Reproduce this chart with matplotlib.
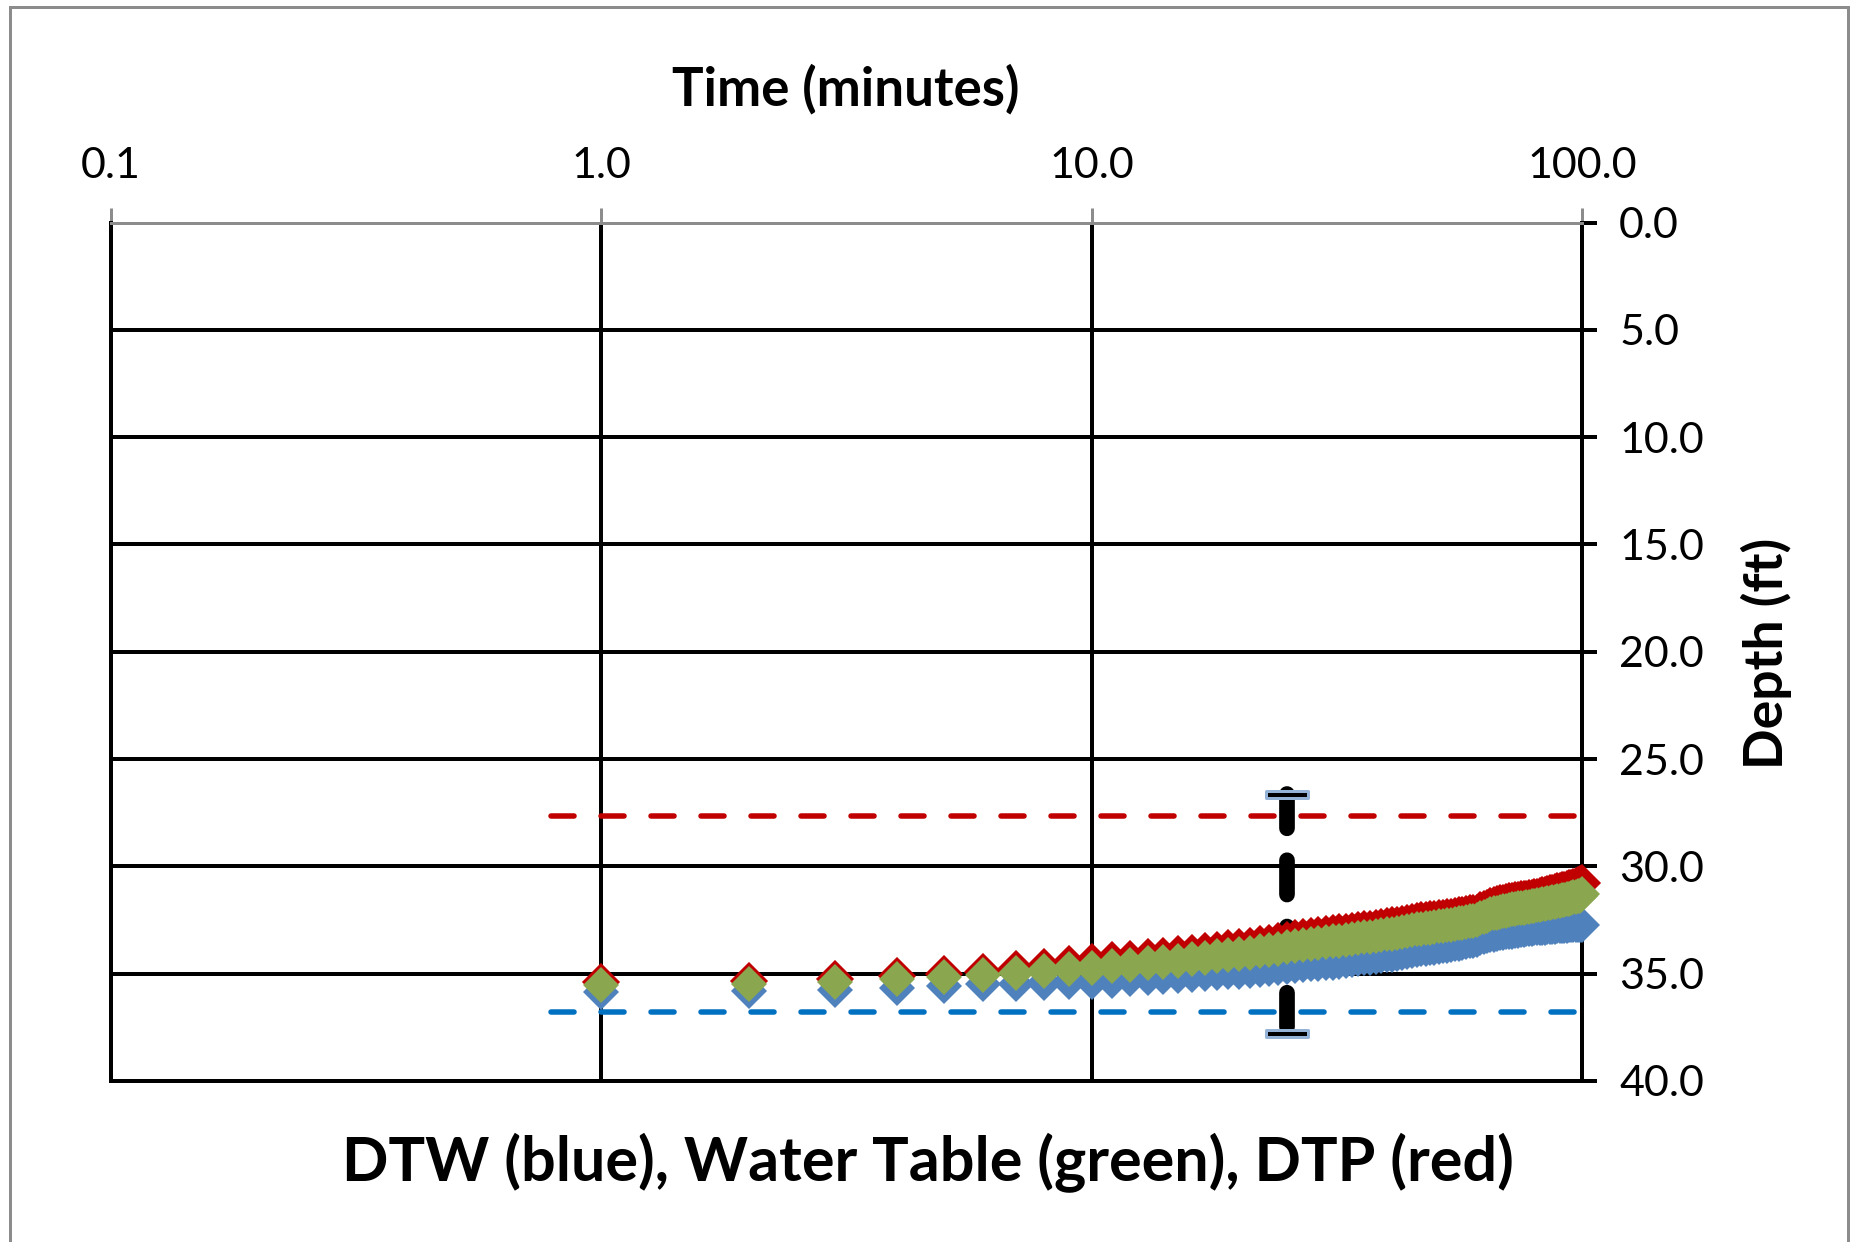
#Depth to water / water table / depth to product vs. time for a bail-down test
#Log time axis along the top, depth increasing downward on the right

import numpy as np
import matplotlib.pyplot as plt
from matplotlib.path import Path
from matplotlib.patches import Rectangle

plt.rcParams['font.family'] = ['Lato', 'DejaVu Sans']
plt.rcParams['lines.scale_dashes'] = False

PT = 0.72  # points per pixel at dpi=100

# sample times (minutes)
minutes = np.arange(1, 101)

# depth to water (ft)
dtw = [35.85, 35.80, 35.75, 35.66, 35.57, 35.50, 35.46, 35.43, 35.40, 35.37,
       35.32, 35.27, 35.22, 35.17, 35.12, 35.08, 35.03, 34.99, 34.94, 34.90,
       34.86, 34.81, 34.77, 34.72, 34.68, 34.64, 34.60, 34.57, 34.54, 34.51,
       34.48, 34.45, 34.41, 34.37, 34.33, 34.29, 34.26, 34.22, 34.19, 34.15,
       34.11, 34.08, 34.04, 34.00, 33.95, 33.90, 33.87, 33.84, 33.81, 33.78,
       33.75, 33.72, 33.69, 33.66, 33.63, 33.60, 33.56, 33.52, 33.49, 33.46,
       33.43, 33.35, 33.28, 33.24, 33.21, 33.18, 33.15, 33.12, 33.10, 33.08,
       33.06, 33.04, 33.02, 33.00, 32.98, 32.96, 32.94, 32.92, 32.90, 32.89,
       32.88, 32.87, 32.86, 32.85, 32.84, 32.83, 32.82, 32.81, 32.80, 32.79,
       32.78, 32.77, 32.76, 32.75, 32.74, 32.74, 32.73, 32.73, 32.72, 32.72]

# depth to product (ft)
dtp = [35.40, 35.34, 35.23, 35.11, 35.00, 34.91, 34.79, 34.68, 34.57, 34.47,
       34.38, 34.31, 34.24, 34.17, 34.10, 34.03, 33.96, 33.88, 33.82, 33.76,
       33.69, 33.62, 33.55, 33.48, 33.41, 33.36, 33.31, 33.26, 33.21, 33.16,
       33.12, 33.08, 33.04, 33.00, 32.96, 32.93, 32.90, 32.86, 32.83, 32.79,
       32.75, 32.71, 32.67, 32.63, 32.59, 32.55, 32.52, 32.49, 32.47, 32.44,
       32.42, 32.39, 32.37, 32.34, 32.31, 32.28, 32.25, 32.21, 32.19, 32.17,
       32.16, 32.05, 31.98, 31.92, 31.86, 31.80, 31.76, 31.72, 31.69, 31.66,
       31.63, 31.60, 31.58, 31.56, 31.54, 31.52, 31.50, 31.48, 31.46, 31.44,
       31.41, 31.38, 31.35, 31.32, 31.29, 31.26, 31.23, 31.20, 31.17, 31.14,
       31.11, 31.08, 31.05, 31.02, 30.99, 30.95, 30.91, 30.87, 30.83, 30.78]

# corrected water table (ft)
water_table = [35.53, 35.47, 35.38, 35.26, 35.16, 35.08, 34.98, 34.89, 34.80, 34.72,
               34.64, 34.58, 34.51, 34.45, 34.39, 34.32, 34.26, 34.19, 34.13, 34.08,
               34.02, 33.95, 33.89, 33.83, 33.77, 33.72, 33.67, 33.63, 33.58, 33.54,
               33.50, 33.46, 33.42, 33.38, 33.34, 33.31, 33.28, 33.24, 33.21, 33.17,
               33.13, 33.09, 33.05, 33.01, 32.97, 32.93, 32.90, 32.87, 32.85, 32.82,
               32.79, 32.76, 32.74, 32.71, 32.68, 32.65, 32.62, 32.58, 32.55, 32.53,
               32.52, 32.41, 32.34, 32.29, 32.24, 32.19, 32.15, 32.11, 32.08, 32.06,
               32.03, 32.00, 31.98, 31.96, 31.94, 31.92, 31.90, 31.88, 31.86, 31.85,
               31.82, 31.80, 31.77, 31.75, 31.72, 31.70, 31.68, 31.65, 31.63, 31.60,
               31.58, 31.55, 31.53, 31.50, 31.48, 31.45, 31.42, 31.39, 31.36, 31.28]

# static levels before bailing
ref_span = [0.79, 100]
dtp_static = 27.66
dtw_static = 36.78

# recovery window marker
bar_time = 25
bar_range = [26.65, 37.75]

x_ticks = [0.1, 1, 10, 100]
x_labels = ['0.1', '1.0', '10.0', '100.0']
y_ticks = [0, 5, 10, 15, 20, 25, 30, 35, 40]
y_labels = ['0.0', '5.0', '10.0', '15.0', '20.0', '25.0', '30.0', '35.0', '40.0']

W, H = 1855, 1242
fig = plt.figure(figsize=(W / 100, H / 100), dpi=100)
left, right, top, bottom = 111, 1582, 222.5, 1081
ax = fig.add_axes([left / W, 1 - bottom / H, (right - left) / W, (bottom - top) / H])

ax.set_xscale('log')
ax.set_xlim(0.1, 100)
ax.set_ylim(40, 0)
ax.xaxis.tick_top()
ax.yaxis.tick_right()
ax.set_xticks(x_ticks)
ax.set_xticklabels(x_labels)
ax.xaxis.set_minor_locator(plt.NullLocator())
ax.set_yticks(y_ticks)
ax.set_yticklabels(y_labels)

ax.tick_params(axis='x', direction='out', length=15 * PT, width=3 * PT,
               color='#8c8c8c', pad=16.5, labelsize=31)
ax.tick_params(axis='y', direction='out', length=15 * PT, width=4 * PT,
               color='black', pad=16, labelsize=31)

ax.set_axisbelow(True)
ax.grid(True, color='black', linewidth=4 * PT)

for side in ['left', 'right', 'bottom']:
    ax.spines[side].set_color('black')
    ax.spines[side].set_linewidth(4 * PT)
ax.spines['top'].set_color('#8c8c8c')
ax.spines['top'].set_linewidth(3 * PT)

# static level lines
ax.plot(ref_span, [dtp_static] * 2, color='#C00000', lw=5.5 * PT,
        dashes=(16.6, 19.4), dash_capstyle='round', zorder=2)
ax.plot(ref_span, [dtw_static] * 2, color='#0070C0', lw=5.5 * PT,
        dashes=(16.6, 19.4), dash_capstyle='round', zorder=2)

# thick dashed range bar with boxed caps
ax.plot([bar_time] * 2, bar_range, color='black', lw=15.7 * PT,
        dashes=(24.7, 23.0), dash_capstyle='round', zorder=3)
cap = Path([(-21, -3.5), (21, -3.5), (21, 3.5), (-21, 3.5), (0, 0)],
           [Path.MOVETO, Path.LINETO, Path.LINETO, Path.LINETO, Path.CLOSEPOLY])
ax.plot([bar_time] * 2, bar_range, ls='none', marker=cap, ms=42 * PT,
        mfc='black', mec='#95B3D7', mew=3 * PT, zorder=3.5)

# data series
ms = 18.6
ax.plot(minutes, dtw, ls='none', marker='D', ms=ms, color='#4F81BD',
        mew=0, zorder=5, clip_on=False)
ax.plot(minutes, dtp, ls='none', marker='D', ms=ms, color='#C00000',
        mec='#C00000', mew=1.5 * PT, zorder=6, clip_on=False)
ax.plot(minutes, water_table, ls='none', marker='D', ms=ms, color='#8AA64F',
        mew=0, zorder=7, clip_on=False)

fig.text(846 / W, 1 - 106 / H, 'Time (minutes)', ha='center', va='baseline',
         fontsize=38, fontweight='bold')
fig.text(1766 / W, 1 - 653 / H, 'Depth (ft)', ha='center', va='center',
         rotation=90, fontsize=38.5, fontweight='bold')
fig.text(927.5 / W, 1 - 1181 / H, 'DTW (blue), Water Table (green), DTP (red)',
         ha='center', va='baseline', fontsize=44, fontweight='bold')

# outer chart frame
fig.patches.append(Rectangle((9.5 / W, -0.02), (1848 - 9.5) / W, 1.02 - 7 / H,
                             transform=fig.transFigure, fill=False,
                             edgecolor='#8c8c8c', lw=3 * PT))

fig.savefig('out.png', dpi=100)
